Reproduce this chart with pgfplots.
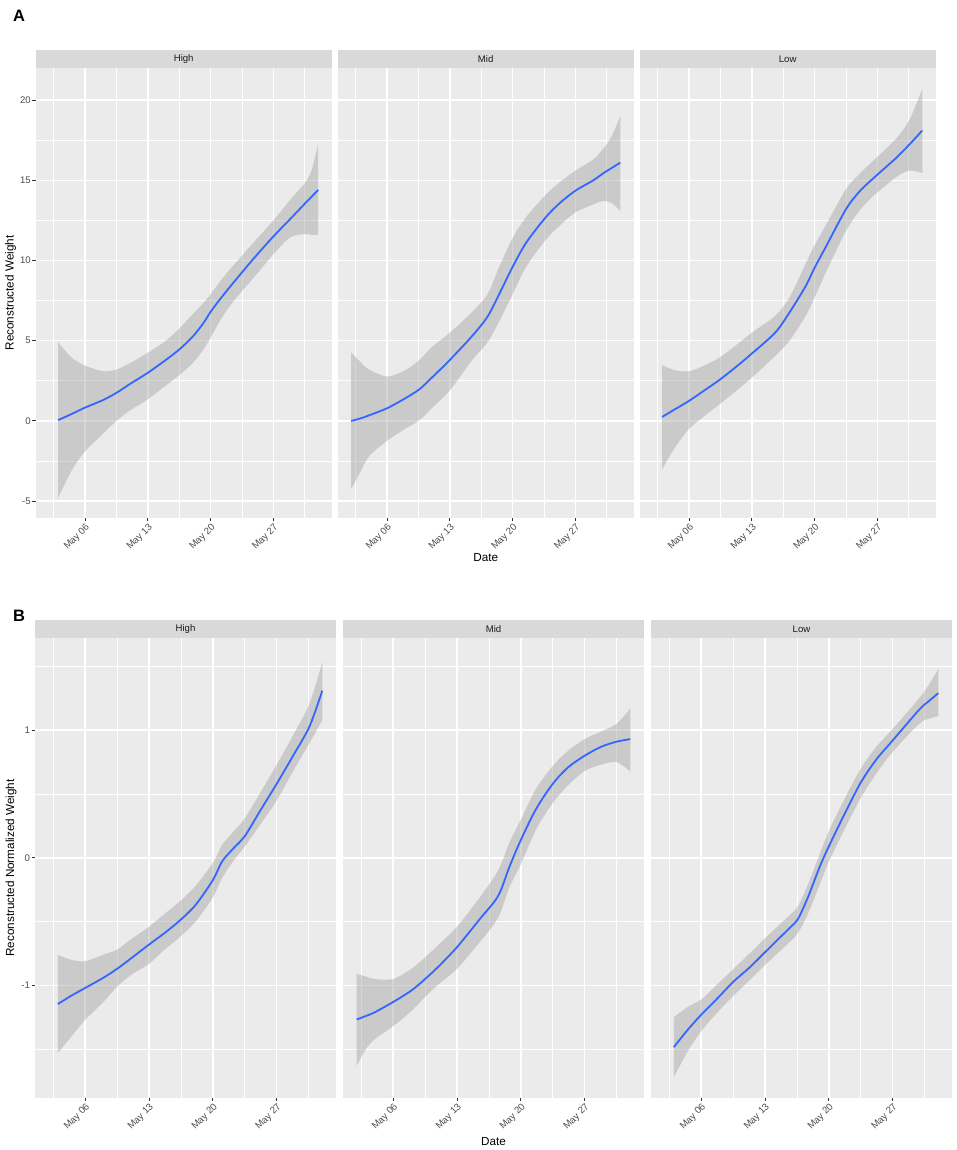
\documentclass[border=0pt]{standalone}
\usepackage{pgfplots}
\pgfplotsset{compat=1.18}
\usepackage{pgfplotstable}
\usepgfplotslibrary{fillbetween}
\usepackage{fontspec}
\setmainfont{Liberation Sans}

\definecolor{bggray}{RGB}{235,235,235}
\definecolor{stripc}{RGB}{217,217,217}
\definecolor{tickc}{RGB}{51,51,51}
\definecolor{labc}{RGB}{77,77,77}
\definecolor{striptext}{RGB}{26,26,26}
\definecolor{linec}{RGB}{51,102,255}
\definecolor{ribc}{RGB}{153,153,153}

% Panel A
\pgfplotstableread{
x y lo hi
3 0.05 -4.8 4.9
4.5 0.43 -3.1 3.95
6 0.83 -1.9 3.45
8 1.3 -0.8 3.1
9.5 1.75 0.0 3.2
11 2.3 0.65 3.6
13 3.0 1.35 4.25
15 3.8 2.2 5.0
16.5 4.45 2.85 5.75
18 5.25 3.6 6.65
19.2 6.1 4.45 7.35
20 6.8 5.2 7.9
21 7.55 6.2 8.65
22 8.25 7.05 9.35
23.5 9.26 8.1 10.3
25 10.25 9.05 11.25
27 11.5 10.4 12.5
28.9 12.6 11.45 13.8
30.6 13.6 11.65 14.9
31.3 14.0 11.6 15.7
32 14.4 11.6 17.3
}\AHigh
\pgfplotstableread{
x y lo hi
2 0.0 -4.25 4.27
3 0.15 -3.2 3.7
4 0.35 -2.2 3.2
6 0.79 -1.24 2.77
8 1.4 -0.5 3.15
9.6 1.97 0.04 3.8
11 2.7 0.8 4.6
13 3.8 1.9 5.5
15.5 5.3 3.8 6.8
17.2 6.5 4.9 7.9
18.5 7.9 6.2 9.6
20 9.6 7.9 11.4
21.5 11.1 9.6 12.7
23.7 12.7 11.3 14.1
25.3 13.6 12.2 14.9
27 14.35 13.0 15.6
29 15.0 13.5 16.3
30 15.4 13.7 16.9
31 15.75 13.6 17.7
32 16.1 13.1 19.0
}\AMid
\pgfplotstableread{
x y lo hi
3 0.25 -3.0 3.47
4.5 0.75 -1.6 3.15
6 1.25 -0.5 3.1
7.7 1.9 0.3 3.45
9.4 2.56 1.04 3.95
11.2 3.35 1.85 4.7
13 4.2 2.7 5.5
15.6 5.5 4.05 6.55
17.2 6.76 5.0 7.7
19 8.4 6.55 9.8
20 9.55 7.7 10.95
21.25 10.85 9.25 12.2
23.5 13.2 11.85 14.45
25 14.3 13.1 15.4
26.5 15.1 14.0 16.2
29.1 16.4 15.2 17.6
30.6 17.25 15.6 18.8
32 18.1 15.45 20.7
}\ALow
% Panel B
\pgfplotstableread{
x y lo hi
3 -1.146 -1.53 -0.76
4.5 -1.08 -1.40 -0.80
6 -1.02 -1.27 -0.81
8 -0.94 -1.13 -0.76
9.5 -0.87 -1.01 -0.72
11 -0.79 -0.92 -0.64
13 -0.68 -0.83 -0.54
14.7 -0.59 -0.72 -0.44
16.4 -0.49 -0.62 -0.34
18.1 -0.37 -0.50 -0.22
20 -0.175 -0.31 -0.04
21 -0.03 -0.16 0.10
22.2 0.07 -0.03 0.20
23.5 0.17 0.09 0.31
25.2 0.37 0.26 0.51
27 0.58 0.45 0.73
28.8 0.80 0.68 0.96
30.6 1.03 0.90 1.21
32 1.31 1.08 1.535
}\BHigh
\pgfplotstableread{
x y lo hi
2 -1.267 -1.63 -0.91
3 -1.24 -1.50 -0.93
4 -1.21 -1.42 -0.95
6 -1.13 -1.32 -0.95
8 -1.04 -1.20 -0.87
9.5 -0.95 -1.09 -0.78
11 -0.85 -0.99 -0.68
13 -0.70 -0.87 -0.54
15.5 -0.48 -0.66 -0.31
17.5 -0.30 -0.47 -0.10
18.75 -0.07 -0.23 0.12
20 0.14 -0.05 0.30
21.65 0.38 0.22 0.54
23.5 0.58 0.43 0.72
25.2 0.71 0.57 0.84
27 0.80 0.68 0.93
28.8 0.87 0.73 0.99
30.5 0.91 0.75 1.05
32 0.93 0.675 1.17
}\BMid
\pgfplotstableread{
x y lo hi
3 -1.484 -1.72 -1.25
4.5 -1.35 -1.52 -1.17
6 -1.23 -1.36 -1.11
7.8 -1.10 -1.21 -0.99
9.55 -0.97 -1.08 -0.87
11.3 -0.86 -0.96 -0.75
13 -0.74 -0.84 -0.63
15.55 -0.56 -0.67 -0.46
16.6 -0.48 -0.59 -0.38
17.7 -0.31 -0.44 -0.21
19 -0.07 -0.21 0.03
20 0.09 -0.03 0.21
21.7 0.34 0.22 0.46
23.5 0.59 0.47 0.70
25.2 0.77 0.66 0.87
27 0.92 0.83 1.01
29.9 1.16 1.05 1.25
31 1.23 1.09 1.36
32 1.29 1.11 1.48
}\BLow

\pgfplotsset{
  facet/.style={
    scale only axis, anchor=south west,
    xmin=0.5, xmax=33.5,
    xtick={6,13,20,27}, xticklabels={May 06,May 13,May 20,May 27},
    minor xtick={2.5,9.5,16.5,23.5,30.5},
    grid=both,
    major grid style={white, line width=1.5pt},
    minor grid style={white, line width=0.75pt},
    axis background/.style={fill=bggray},
    axis line style={draw=none},
    tick align=outside, tick pos=left,
    major tick length=3.3pt, minor tick length=0pt,
    tick style={color=tickc, line width=0.9pt},
    ticklabel style={font=\fontsize{9.6}{10}\selectfont, text=labc},
    xticklabel style={rotate=45, anchor=north east, inner sep=1pt},
    yticklabel style={anchor=east, inner sep=1.5pt},
    every axis title/.style={at={(0.5,1)}, anchor=south, fill=stripc, inner sep=0pt,
      font=\fontsize{9.6}{10}\selectfont, text=striptext},
  },
  panA/.style={facet, width=296pt, height=450pt, ymin=-6.05, ymax=22.0,
    ytick={-5,0,5,10,15,20}, yticklabels={-5,0,5,10,15,20},
    minor ytick={-2.5,2.5,7.5,12.5,17.5},
    title style={minimum width=296pt, minimum height=18pt}},
  panB/.style={facet, width=301pt, height=459.4pt, ymin=-1.88, ymax=1.72,
    ytick={-1,0,1}, yticklabels={-1,0,1},
    minor ytick={-1.5,-0.5,0.5,1.5},
    title style={minimum width=301pt, minimum height=17.6pt}},
  noy/.style={yticklabels={}, ytick style={draw=none}},
}

\newcommand{\facetplot}[2]{%
  \addplot[name path=hi#2, draw=none, smooth] table[x=x,y=hi]{#1};
  \addplot[name path=lo#2, draw=none, smooth] table[x=x,y=lo]{#1};
  \addplot[fill=ribc, fill opacity=0.4, draw=none] fill between[of=hi#2 and lo#2];
  \addplot[smooth, color=linec, line width=1.8pt] table[x=x,y=y]{#1};
}

\begin{document}
\begin{tikzpicture}
\path (0pt,0pt) rectangle (956pt,1150pt);

% ---------- Panel A ----------
\begin{axis}[panA, at={(35.7pt,632pt)}, title={High}]
\facetplot{\AHigh}{a}
\end{axis}
\begin{axis}[panA, noy, at={(337.7pt,632pt)}, title={Mid}]
\facetplot{\AMid}{b}
\end{axis}
\begin{axis}[panA, noy, at={(639.7pt,632pt)}, title={Low}]
\facetplot{\ALow}{c}
\end{axis}

% ---------- Panel B ----------
\begin{axis}[panB, at={(35pt,52.3pt)}, title={High}]
\facetplot{\BHigh}{d}
\end{axis}
\begin{axis}[panB, noy, at={(343pt,52.3pt)}, title={Mid}]
\facetplot{\BMid}{e}
\end{axis}
\begin{axis}[panB, noy, at={(651pt,52.3pt)}, title={Low}]
\facetplot{\BLow}{f}
\end{axis}

% labels
\node[anchor=base west, font=\bfseries\fontsize{16.5}{17}\selectfont] at (9.5pt,1128.3pt) {A};
\node[anchor=base west, font=\bfseries\fontsize{16.5}{17}\selectfont] at (9.5pt,528.3pt) {B};
\node[rotate=90, font=\fontsize{11.7}{12}\selectfont] at (10.5pt,857pt) {Reconstructed Weight};
\node[font=\fontsize{11.7}{12}\selectfont] at (485.7pt,592pt) {Date};
\node[rotate=90, font=\fontsize{11.7}{12}\selectfont] at (11pt,282pt) {Reconstructed Normalized Weight};
\node[font=\fontsize{11.7}{12}\selectfont] at (493.5pt,8.5pt) {Date};
\end{tikzpicture}
\end{document}
